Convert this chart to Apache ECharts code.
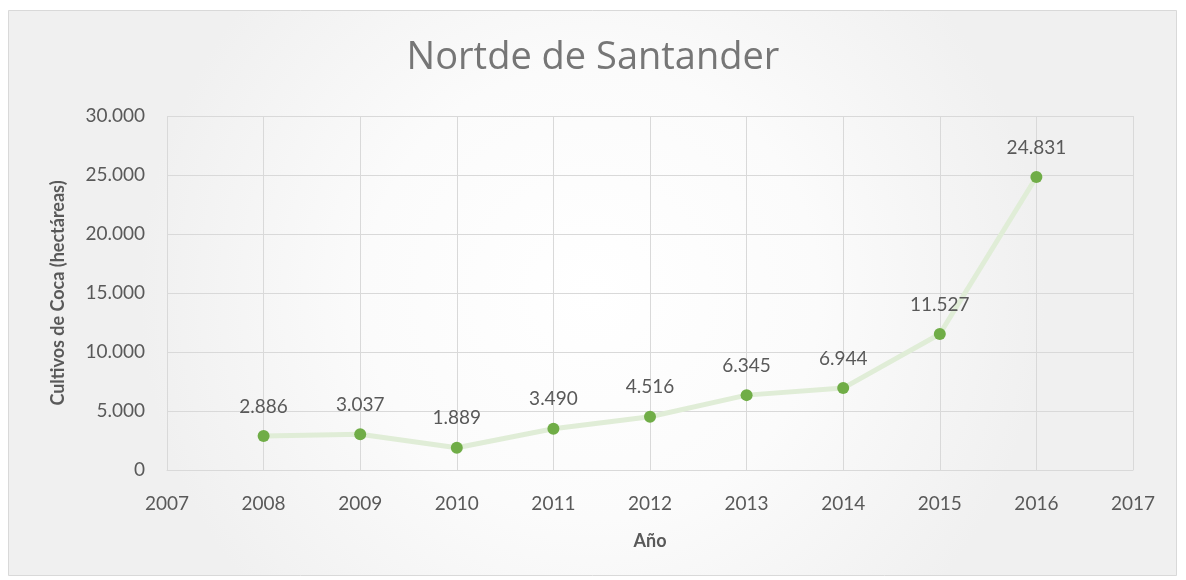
<!DOCTYPE html>
<html>
<head>
<meta charset="utf-8">
<script src="https://cdn.jsdelivr.net/npm/echarts@6/dist/echarts.min.js"></script>
<style>
  html, body { margin: 0; padding: 0; background: #ffffff; }
  #chart { width: 1186px; height: 580px; }
</style>
</head>
<body>
<div id="chart"></div>
<script>
var years = [2008, 2009, 2010, 2011, 2012, 2013, 2014, 2015, 2016];
var hectares = [2886, 3037, 1889, 3490, 4516, 6345, 6944, 11527, 24831];

// thousands with a dot, like the original
function fmt(v) {
    return String(Math.round(v)).replace(/\B(?=(\d{3})+(?!\d))/g, '.');
}

var chart = echarts.init(document.getElementById('chart'));
var font = 'Lato, "Open Sans", sans-serif';

var points = [];
for (var i = 0; i < years.length; i++) {
    points.push([years[i], hectares[i]]);
}

var option = {
    backgroundColor: '#ffffff',
    graphic: [{
        type: 'rect',
        z: -10,
        shape: { x: 8.5, y: 10.5, width: 1168, height: 565 },
        style: {
            fill: new echarts.graphic.RadialGradient(0.5, 0.5, 0.8, [
                { offset: 0, color: '#ffffff' },
                { offset: 0.5, color: '#fbfbfb' },
                { offset: 1, color: '#f0f0f0' }
            ]),
            stroke: '#d9d9d9',
            lineWidth: 1
        }
    }],
    title: {
        text: 'Nortde de Santander',
        left: 'center',
        top: 34,
        textStyle: {
            fontFamily: '"Open Sans", sans-serif',
            fontSize: 38,
            fontWeight: 'normal',
            color: '#767676'
        }
    },
    grid: { left: 167, right: 53, top: 116, bottom: 110 },
    xAxis: {
        type: 'value',
        min: 2007,
        max: 2017,
        interval: 1,
        name: 'Año',
        nameLocation: 'middle',
        nameGap: 62,
        nameTextStyle: { fontFamily: font, fontSize: 18, fontWeight: 'bold', color: '#595959' },
        axisLine: { show: true, lineStyle: { color: '#d9d9d9', width: 1 } },
        axisTick: { show: false },
        axisLabel: {
            fontFamily: font, fontSize: 19, color: '#595959', margin: 24,
            formatter: function (v) { return String(v); }
        },
        splitLine: { show: true, lineStyle: { color: '#d9d9d9', width: 1 } }
    },
    yAxis: {
        type: 'value',
        min: 0,
        max: 30000,
        interval: 5000,
        name: 'Cultivos de Coca (hectáreas)',
        nameLocation: 'middle',
        nameGap: 100,
        nameRotate: 90,
        nameTextStyle: { fontFamily: font, fontSize: 18, fontWeight: 'bold', color: '#595959' },
        axisLine: { show: false },
        axisTick: { show: false },
        axisLabel: {
            fontFamily: font, fontSize: 19, color: '#595959', margin: 22,
            formatter: function (v) { return fmt(v); }
        },
        splitLine: { show: true, lineStyle: { color: '#d9d9d9', width: 1 } }
    },
    series: [{
        type: 'line',
        data: points,
        symbol: 'circle',
        symbolSize: 12,
        lineStyle: { color: '#e0edd7', width: 5 },
        itemStyle: { color: '#70ad47' },
        label: {
            show: true,
            position: 'top',
            distance: 14,
            fontFamily: font,
            fontSize: 19,
            color: '#595959',
            formatter: function (p) { return fmt(p.value[1]); }
        },
        animation: false
    }]
};

option && chart.setOption(option);
window.addEventListener('resize', chart.resize);
</script>
</body>
</html>
